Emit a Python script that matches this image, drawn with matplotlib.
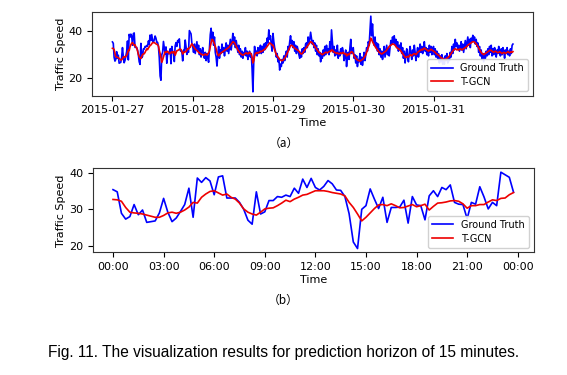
"""Traffic speed prediction vs ground truth (15-minute horizon), two panels."""
import matplotlib
matplotlib.use("Agg")
import matplotlib.dates as mdates
import matplotlib.pyplot as plt
import pandas as pd
from matplotlib.ticker import FixedLocator, MultipleLocator

# ---- data (15-min steps) ----
START = "2015-01-27 00:00"
DAY_TICKS = ["2015-01-27", "2015-01-28", "2015-01-29", "2015-01-30", "2015-01-31"]

day1_truth = [
    35.4, 34.8, 28.9, 27.3, 28.0, 31.3, 28.5, 29.8, 26.4, 26.6, 26.8, 29.0,
    33.0, 29.2, 26.6, 27.6, 29.4, 31.3, 35.8, 27.8, 38.6, 37.4, 38.7, 37.8,
    34.0, 38.9, 39.2, 33.1, 33.1, 33.1, 31.9, 30.0, 27.0, 25.9, 34.8, 28.7,
    29.3, 32.4, 32.4, 33.5, 33.3, 33.9, 33.5, 35.8, 34.4, 38.3, 36.0, 38.5,
    36.0, 35.3, 36.3, 37.9, 37.0, 35.3, 35.2, 33.5, 28.8, 21.0, 19.2, 30.0,
    31.0, 35.6, 32.8, 30.2, 33.3, 26.4, 30.5, 30.5, 30.6, 32.5, 26.2, 33.5,
    31.2, 31.0, 27.1, 33.7, 35.1, 33.5, 36.0, 35.4, 36.7, 31.9, 31.4, 31.3,
    27.4, 31.9, 31.4, 36.2, 33.4, 30.1, 31.9, 31.0, 40.2, 39.5, 38.8, 34.7,
]
day1_tgcn = [
    32.7, 32.6, 32.2, 30.5, 29.2, 29.0, 28.9, 28.7, 28.4, 28.1, 27.8, 27.8,
    28.3, 29.0, 29.2, 28.9, 29.2, 29.8, 30.6, 31.9, 31.7, 33.3, 34.2, 34.9,
    35.1, 34.5, 33.9, 34.2, 33.3, 32.8, 31.7, 30.1, 29.2, 28.7, 28.4, 29.2,
    30.1, 30.3, 30.4, 31.0, 31.7, 32.5, 32.1, 32.8, 33.3, 33.9, 34.1, 34.6,
    35.1, 35.1, 35.1, 34.9, 34.6, 34.4, 34.2, 33.7, 31.9, 30.5, 28.7, 26.8,
    27.8, 29.0, 30.2, 31.2, 31.3, 31.0, 31.5, 31.0, 30.4, 30.5, 30.9, 31.3,
    30.7, 31.0, 31.4, 29.8, 30.8, 31.7, 31.8, 32.0, 32.3, 32.4, 32.2, 31.5,
    30.3, 31.0, 31.0, 31.3, 31.3, 32.0, 32.6, 32.4, 33.0, 33.1, 34.0, 34.6,
]
day2_truth = [
    33.5, 31.0, 34.5, 30.5, 33.0, 35.5, 31.5, 34.0, 30.0, 32.5, 29.0, 31.5,
    33.0, 30.0, 28.5, 31.0, 27.5, 30.5, 29.0, 26.8, 33.0, 38.5, 41.2, 36.0,
    39.5, 34.0, 37.5, 31.0, 29.0, 25.2, 30.0, 33.5, 28.5, 32.0, 30.5, 34.5,
    31.0, 33.0, 29.5, 32.5, 35.0, 31.5, 34.0, 30.5, 33.5, 36.5, 32.0, 35.0,
    39.0, 34.5, 37.5, 33.0, 36.0, 33.5, 31.0, 34.0, 30.0, 32.5, 29.0, 31.5,
    28.5, 31.0, 30.0, 33.0, 29.5, 31.5, 28.0, 30.5, 31.5, 29.0, 30.5, 24.0,
    14.3, 27.0, 33.5, 30.0, 31.5, 29.5, 33.0, 30.5, 32.0, 34.0, 30.5, 33.5,
    31.0, 34.5, 32.0, 35.0, 33.5, 37.0, 35.0, 40.5, 36.5, 38.0, 34.0, 31.5,
]
day2_tgcn = [
    34.0, 33.5, 33.0, 32.5, 32.0, 31.8, 31.5, 31.0, 30.8, 30.5, 30.3, 30.0,
    30.0, 29.8, 30.0, 30.3, 30.0, 29.8, 30.3, 30.8, 31.5, 33.5, 35.0, 36.5,
    36.3, 35.5, 34.5, 33.5, 32.5, 31.0, 30.0, 29.5, 30.0, 30.5, 30.8, 31.0,
    31.3, 31.5, 31.8, 32.0, 32.3, 32.5, 32.8, 33.0, 33.5, 34.0, 34.5, 35.0,
    35.5, 35.3, 35.0, 34.3, 33.5, 32.8, 32.0, 31.5, 31.0, 30.5, 30.3, 30.0,
    29.8, 30.0, 30.3, 30.5, 30.8, 30.5, 30.3, 30.8, 31.0, 30.5, 30.3, 29.0,
    26.5, 27.5, 29.5, 30.5, 30.8, 30.5, 31.0, 30.8, 31.0, 31.5, 31.3, 31.5,
    31.8, 32.0, 32.3, 32.5, 33.0, 33.5, 34.0, 34.5, 35.0, 34.8, 34.5, 34.0,
]
day3_truth = [
    39.0, 35.5, 33.0, 31.5, 29.0, 30.5, 27.0, 28.5, 23.5, 26.0, 25.0, 28.0,
    26.5, 29.5, 27.5, 30.0, 31.5, 29.0, 33.5, 32.0, 35.5, 38.0, 34.5, 36.0,
    33.0, 35.5, 31.5, 34.0, 30.5, 33.5, 32.0, 30.0, 28.5, 31.0, 29.0, 32.5,
    30.5, 33.0, 31.0, 34.5, 35.0, 33.0, 37.5, 35.0, 36.5, 39.5, 37.0, 34.5,
    36.0, 33.0, 35.0, 31.5, 34.0, 30.0, 32.5, 29.5, 31.0, 27.0, 30.5, 28.5,
    32.0, 29.5, 33.5, 30.0, 34.0, 31.0, 32.5, 30.0, 35.5, 32.0, 40.5, 36.0,
    31.0, 33.5, 29.5, 32.0, 30.0, 34.0, 28.5, 31.0, 29.5, 32.5, 30.5, 33.0,
    31.5, 27.5, 29.0, 32.0, 25.0, 29.5, 31.0, 28.0, 33.0, 36.5, 30.5, 32.0,
]
day3_tgcn = [
    34.0, 33.0, 32.0, 31.0, 30.0, 29.5, 29.0, 28.5, 28.0, 27.8, 27.5, 27.5,
    27.7, 28.0, 28.5, 29.0, 29.8, 30.5, 31.5, 32.3, 33.0, 33.8, 34.0, 33.8,
    33.5, 33.0, 32.8, 32.5, 32.3, 32.0, 31.8, 31.5, 31.0, 30.5, 30.3, 30.5,
    31.0, 31.5, 32.0, 32.5, 33.0, 33.5, 34.0, 34.5, 35.0, 35.5, 35.3, 35.0,
    34.5, 34.0, 33.5, 33.0, 32.5, 32.0, 31.5, 31.0, 30.8, 30.5, 30.3, 30.0,
    30.3, 30.5, 30.8, 31.0, 31.0, 30.8, 31.0, 31.3, 31.5, 31.3, 32.0, 32.0,
    31.5, 31.0, 31.0, 30.8, 30.5, 30.8, 30.5, 30.3, 30.5, 30.8, 30.5, 30.8,
    31.0, 30.5, 30.3, 30.5, 29.5, 29.8, 30.3, 30.0, 30.5, 31.0, 31.3, 31.0,
]
day4_truth = [
    33.0, 28.5, 30.0, 26.5, 29.5, 25.0, 28.0, 27.0, 30.5, 26.0, 29.0, 25.5,
    28.0, 31.0, 27.5, 30.0, 33.0, 31.5, 35.5, 34.0, 40.0, 46.3, 38.0, 43.0,
    36.5, 34.0, 37.5, 33.0, 35.0, 31.5, 34.5, 30.0, 32.5, 29.0, 31.5, 28.0,
    30.5, 33.5, 29.0, 31.5, 34.0, 30.0, 32.5, 29.5, 33.0, 36.0, 34.5, 37.5,
    35.0, 38.0, 34.5, 36.5, 33.0, 35.5, 31.5, 34.0, 32.0, 35.0, 30.5, 33.0,
    28.5, 31.5, 26.5, 30.0, 32.5, 29.0, 27.0, 31.0, 33.5, 30.5, 28.0, 32.0,
    29.5, 34.0, 31.0, 27.5, 30.5, 33.0, 29.0, 31.5, 34.5, 31.0, 33.5, 30.5,
    32.0, 35.5, 31.5, 33.0, 30.0, 32.5, 29.5, 34.0, 31.0, 33.5, 30.0, 32.5,
]
day4_tgcn = [
    30.5, 29.5, 29.0, 28.5, 28.0, 27.8, 27.5, 27.5, 27.3, 27.5, 27.8, 28.0,
    28.3, 28.8, 29.3, 30.0, 31.0, 32.0, 33.0, 34.0, 35.5, 37.0, 36.5, 35.5,
    34.8, 34.0, 33.5, 33.0, 32.5, 32.0, 31.5, 31.0, 30.8, 30.5, 30.3, 30.5,
    30.8, 31.0, 31.3, 31.5, 32.0, 32.5, 33.0, 33.5, 33.8, 34.0, 34.3, 34.5,
    34.5, 34.3, 34.0, 33.5, 33.0, 32.8, 32.5, 32.3, 32.0, 31.5, 31.0, 30.5,
    30.0, 29.5, 29.0, 28.8, 29.0, 29.3, 29.0, 29.5, 30.0, 29.8, 29.5, 30.0,
    30.3, 30.5, 30.3, 30.0, 30.5, 31.0, 31.3, 31.5, 31.8, 32.0, 32.3, 32.0,
    32.5, 32.8, 32.5, 32.3, 32.0, 31.8, 31.5, 31.8, 32.0, 32.3, 32.0, 31.8,
]
day5_truth = [
    33.5, 30.0, 32.5, 29.0, 31.5, 28.5, 30.5, 26.5, 29.5, 27.0, 30.0, 26.0,
    28.5, 26.0, 29.5, 27.5, 30.5, 26.5, 29.0, 27.5, 31.0, 29.0, 33.5, 30.5,
    34.5, 32.0, 36.5, 33.5, 35.0, 32.5, 34.0, 31.5, 33.0, 35.5, 32.0, 34.5,
    31.0, 33.5, 36.0, 32.5, 35.0, 37.5, 34.0, 36.5, 33.0, 37.0, 35.5, 38.2,
    36.0, 37.5, 34.5, 36.5, 33.5, 35.0, 31.0, 33.5, 29.5, 32.0, 28.0, 30.5,
    27.0, 30.5, 28.5, 31.5, 29.5, 32.5, 30.0, 33.5, 31.0, 34.0, 29.5, 32.5,
    30.0, 33.0, 31.5, 29.0, 32.0, 30.5, 33.5, 31.0, 29.5, 32.5, 30.0, 33.0,
    31.5, 28.5, 32.0, 30.5, 33.0, 30.0, 31.5, 29.5, 32.5, 30.5, 34.0, 34.5,
]
day5_tgcn = [
    31.5, 31.3, 31.0, 30.5, 30.3, 30.0, 29.8, 29.5, 29.0, 28.8, 28.5, 28.3,
    28.0, 27.8, 28.0, 28.3, 28.5, 28.8, 29.0, 29.5, 30.0, 30.5, 31.0, 31.5,
    32.0, 32.3, 32.5, 32.3, 32.0, 32.3, 32.0, 32.3, 32.5, 32.3, 32.0, 32.3,
    32.5, 32.8, 33.0, 33.3, 33.5, 34.0, 34.3, 34.5, 34.8, 35.0, 35.3, 35.5,
    35.5, 35.3, 35.0, 34.5, 34.0, 33.5, 32.8, 32.0, 31.5, 31.0, 30.5, 30.3,
    30.0, 30.3, 30.5, 30.8, 31.0, 31.3, 31.5, 31.8, 32.0, 31.8, 31.5, 31.3,
    31.0, 31.3, 31.5, 31.3, 31.0, 30.8, 31.0, 31.3, 31.0, 30.8, 30.5, 30.8,
    31.0, 30.8, 30.5, 30.8, 31.0, 31.3, 31.0, 30.8, 31.0, 31.3, 31.0, 31.3,
]

week_truth = day1_truth + day2_truth + day3_truth + day4_truth + day5_truth
week_tgcn = day1_tgcn + day2_tgcn + day3_tgcn + day4_tgcn + day5_tgcn

CAPTION = "Fig. 11. The visualization results for prediction horizon of 15 minutes."


def draw_panel(ax, t, truth, pred, locator, fmt, ystep):
    ax.plot(t, truth, color="#0000ff", lw=1.2, label="Ground Truth")
    ax.plot(t, pred, color="#ee0000", lw=1.2, label="T-GCN")
    ax.xaxis.set_major_locator(locator)
    ax.xaxis.set_major_formatter(mdates.DateFormatter(fmt))
    ax.yaxis.set_major_locator(MultipleLocator(ystep))
    ax.tick_params(labelsize=8, length=3.5, width=0.8)
    ax.set_xlabel("Time", fontsize=8, labelpad=2)
    ax.set_ylabel("Traffic Speed", fontsize=8, labelpad=2)
    ax.legend(loc="lower right", fontsize=7, framealpha=0.9,
              handlelength=2.2, borderpad=0.4, labelspacing=0.4)
    for s in ax.spines.values():
        s.set_linewidth(0.8)
        s.set_color("#333333")


def main():
    t_week = pd.date_range(START, periods=len(week_truth), freq="15min")
    t_day = pd.date_range(START, periods=len(day1_truth), freq="15min")

    fig = plt.figure(figsize=(5.67, 3.75), dpi=100)
    ax_a = fig.add_axes([0.163, 0.745, 0.777, 0.222])
    ax_b = fig.add_axes([0.164, 0.327, 0.777, 0.224])

    day_ticks = FixedLocator(mdates.date2num(pd.to_datetime(DAY_TICKS)))
    draw_panel(ax_a, t_week, week_truth, week_tgcn,
               day_ticks, "%Y-%m-%d", 20)
    draw_panel(ax_b, t_day, day1_truth, day1_tgcn,
               mdates.HourLocator(byhour=range(0, 24, 3)), "%H:%M", 10)

    cjk = ["Noto Sans CJK SC", "DejaVu Sans"]
    fig.text(0.5, 0.618, "（a）", ha="center", va="center", fontsize=8.5,
             family=cjk)
    fig.text(0.5, 0.2, "（b）", ha="center", va="center", fontsize=8.5,
             family=cjk)
    fig.text(0.5, 0.061, CAPTION, ha="center", va="center", fontsize=11.2,
             family="Liberation Sans")

    fig.savefig("out.png", dpi=100)
    plt.close(fig)


if __name__ == "__main__":
    main()
